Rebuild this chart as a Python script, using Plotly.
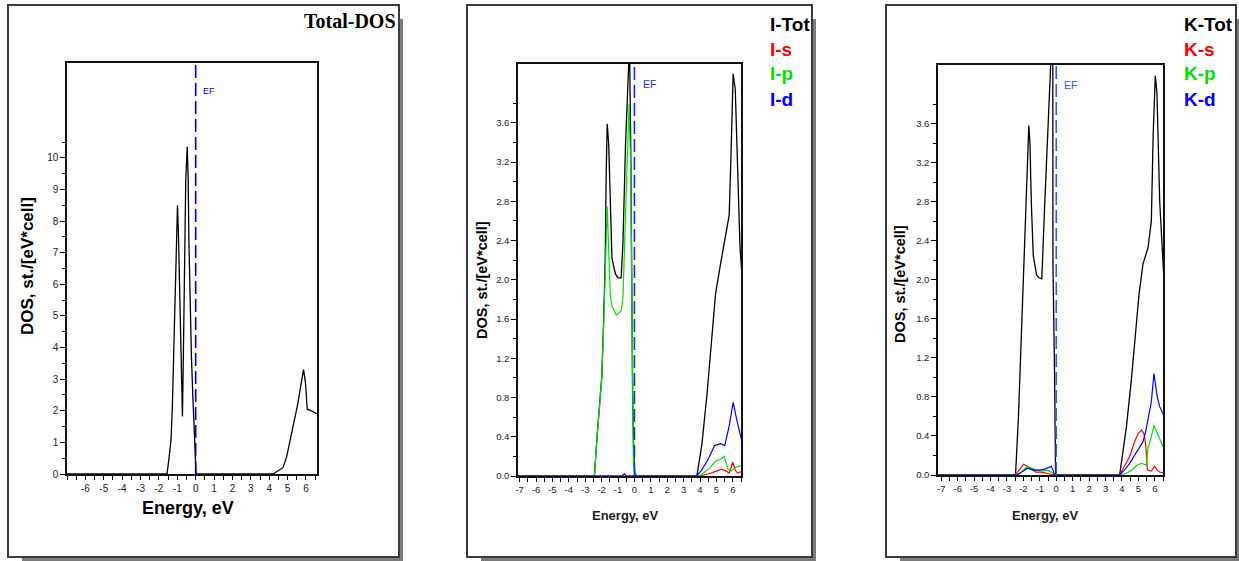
import plotly.graph_objects as go

W, H = 1239, 561

# ---------------- data ----------------
E_FERMI = 0.0

# Total DOS of the cell
tot_e = [-7.0, -1.56, -1.45, -1.34, -1.27, -1.2, -1.12, -1.06, -0.99, -0.94, -0.88,
         -0.83, -0.78, -0.72, -0.68, -0.63, -0.58, -0.54, -0.46, -0.41, -0.37,
         -0.32, -0.23, -0.15, -0.09, -0.03, 0.02, 4.2, 4.45, 4.75, 4.95, 5.15,
         5.35, 5.55, 5.72, 5.87, 5.97, 6.07, 6.3, 6.6]
tot_dos = [0.0, 0.0, 0.5, 1.09, 2.1, 3.93, 5.8, 7.6, 8.5, 7.65, 5.9,
           4.4, 2.7, 1.82, 3.3, 5.0, 7.1, 9.3, 10.35, 9.4, 7.4,
           5.6, 3.7, 2.4, 1.4, 0.43, 0.0, 0.0, 0.08, 0.2, 0.55, 1.1,
           1.65, 2.2, 2.8, 3.3, 2.9, 2.05, 2.0, 1.9]

# Iodine partial DOS
i_tot_e = [-7.1, -2.44, -2.3, -2.13, -1.99, -1.88, -1.78, -1.72, -1.66, -1.57, -1.47,
           -1.37, -1.16, -1.0, -0.81, -0.7, -0.54, -0.4, -0.3, -0.22, -0.17, -0.11,
           -0.05, 0.02, 3.81, 4.12, 4.43, 4.7, 4.95, 5.22, 5.57, 5.78, 5.88, 6.02,
           6.15, 6.29, 6.44, 6.56]
i_tot = [0.0, 0.0, 0.35, 0.73, 1.02, 1.57, 2.22, 3.1, 3.59, 3.39, 2.66,
         2.22, 2.06, 2.02, 2.02, 2.37, 3.39, 3.95, 4.4, 3.3, 2.0, 0.8,
         0.3, 0.0, 0.0, 0.33, 0.84, 1.39, 1.86, 2.13, 2.44, 2.66, 3.21, 4.1,
         3.94, 3.03, 2.33, 2.04]

i_s_e = [-7.1, -0.75, -0.62, -0.5, 3.95, 4.5, 5.0, 5.3, 5.6, 5.78, 5.92, 6.0, 6.15, 6.3, 6.56]
i_s = [0.0, 0.0, 0.02, 0.0, 0.0, 0.02, 0.05, 0.07, 0.05, 0.03, 0.1, 0.14, 0.06, 0.03, 0.05]

i_p_e = [-7.1, -2.44, -2.3, -2.13, -1.99, -1.88, -1.78, -1.72, -1.66, -1.57, -1.47,
         -1.37, -1.1, -0.81, -0.7, -0.54, -0.43, -0.33, -0.23, -0.12, -0.06, 0.08,
         0.2, 3.95, 4.53, 4.95, 5.26, 5.47, 5.71, 5.88, 6.19, 6.56]
i_p = [0.0, 0.0, 0.35, 0.73, 1.0, 1.5, 2.1, 2.5, 2.75, 2.3, 1.85,
       1.73, 1.64, 1.68, 1.82, 2.66, 3.39, 3.79, 3.17, 1.2, 0.11, 0.02,
       0.0, 0.0, 0.07, 0.15, 0.17, 0.2, 0.07, 0.05, 0.09, 0.11]

i_d_e = [-7.1, -0.75, -0.62, -0.5, 3.8, 4.1, 4.53, 4.89, 5.26, 5.51, 5.78, 6.02, 6.23, 6.56]
i_d = [0.0, 0.0, 0.02, 0.0, 0.0, 0.06, 0.18, 0.31, 0.33, 0.31, 0.51, 0.75, 0.58, 0.35]

# Potassium partial DOS
k_tot_e = [-7.2, -2.48, -2.3, -2.15, -2.0, -1.88, -1.75, -1.67, -1.6, -1.52, -1.4,
           -1.2, -1.05, -0.88, -0.72, -0.52, -0.38, -0.3, -0.21, -0.2, -0.1, -0.04,
           3.86, 4.27, 4.57, 4.82, 5.04, 5.28, 5.59, 5.79, 5.9, 6.03, 6.13, 6.3,
           6.45, 6.55]
k_tot = [0.0, 0.0, 0.6, 1.3, 2.2, 2.75, 3.3, 3.58, 3.4, 2.8, 2.25,
         2.05, 2.02, 2.01, 2.7, 3.4, 3.9, 4.35, 4.35, 2.15, 1.0, 0.0,
         0.0, 0.49, 0.97, 1.44, 1.85, 2.16, 2.33, 2.6, 3.48, 4.09, 3.92, 2.8,
         2.33, 2.02]

k_s_e = [-7.2, -2.5, -2.2, -1.99, -1.75, -1.5, -1.25, -0.9, -0.6, -0.35, -0.1,
         3.86, 4.2, 4.47, 4.77, 5.0, 5.2, 5.35, 5.45, 5.55, 5.79, 5.99, 6.15, 6.3, 6.55]
k_s = [0.0, 0.0, 0.06, 0.11, 0.09, 0.06, 0.03, 0.03, 0.02, 0.01, 0.0,
       0.0, 0.1, 0.19, 0.34, 0.43, 0.46, 0.42, 0.3, 0.05, 0.04, 0.09, 0.05, 0.03, 0.02]

k_p_e = [-7.2, -2.45, -2.2, -1.95, -1.73, -1.5, -1.2, -0.9, -0.6, -0.4, -0.2, -0.05,
         3.9, 4.3, 4.6, 4.9, 5.2, 5.48, 5.59, 5.79, 5.95, 6.3, 6.55]
k_p = [0.0, 0.0, 0.02, 0.06, 0.09, 0.07, 0.05, 0.04, 0.05, 0.04, 0.02, 0.0,
       0.0, 0.02, 0.05, 0.1, 0.12, 0.1, 0.28, 0.39, 0.51, 0.36, 0.27]

k_d_e = [-7.2, -2.4, -2.1, -1.75, -1.4, -1.0, -0.7, -0.42, -0.3, -0.2, -0.1,
         3.86, 4.2, 4.47, 4.7, 4.98, 5.28, 5.45, 5.59, 5.79, 5.95, 6.15, 6.3, 6.45, 6.55]
k_d = [0.0, 0.0, 0.03, 0.07, 0.05, 0.05, 0.06, 0.08, 0.09, 0.05, 0.0,
       0.0, 0.06, 0.12, 0.18, 0.25, 0.34, 0.45, 0.58, 0.75, 1.04, 0.8, 0.7, 0.65, 0.61]

x_ticks_1 = [-6, -5, -4, -3, -2, -1, 0, 1, 2, 3, 4, 5, 6]
x_ticks_23 = [-7, -6, -5, -4, -3, -2, -1, 0, 1, 2, 3, 4, 5, 6]
y_ticks_1 = [0, 1, 2, 3, 4, 5, 6, 7, 8, 9, 10]
y_ticks_23 = [0.0, 0.4, 0.8, 1.2, 1.6, 2.0, 2.4, 2.8, 3.2, 3.6]

BLACK, RED, GREEN, BLUE = "#000000", "#ff0000", "#00e000", "#0000ff"


def px_x(p):
    return p / W


def px_y(p):
    return 1 - p / H


fig = go.Figure()


def add_line(x, y, color, axis, width=1.2):
    fig.add_trace(go.Scatter(x=x, y=y, mode="lines", xaxis="x" + axis, yaxis="y" + axis,
                             line=dict(color=color, width=width), showlegend=False,
                             hoverinfo="skip"))


add_line(tot_e, tot_dos, BLACK, "", 1.3)

add_line(i_tot_e, i_tot, BLACK, "2", 1.3)
add_line(i_s_e, i_s, RED, "2")
add_line(i_p_e, i_p, GREEN, "2")
add_line(i_d_e, i_d, BLUE, "2")

add_line(k_tot_e, k_tot, BLACK, "3", 1.3)
add_line(k_s_e, k_s, RED, "3")
add_line(k_p_e, k_p, GREEN, "3")
add_line(k_d_e, k_d, BLUE, "3")

tick_font = dict(family="Arial, Liberation Sans, sans-serif", size=10, color="#222222")


def xaxis(dom, rng, ticks, anchor):
    return dict(domain=[px_x(dom[0]), px_x(dom[1])], range=rng, anchor=anchor,
                tickmode="array", tickvals=ticks, ticktext=[str(t) for t in ticks],
                ticks="outside", ticklen=4, tickwidth=1, tickcolor="#000",
                minor=dict(ticks="outside", dtick=0.5, tick0=0, ticklen=4,
                           tickwidth=1, tickcolor="#000"),
                showline=True, linecolor="#111", linewidth=1.5, mirror=True,
                showgrid=False, zeroline=False, tickfont=tick_font,
                automargin=False, fixedrange=True)


def yaxis(dom, rng, ticks, minor_vals, fmt, anchor):
    return dict(domain=[px_y(dom[1]), px_y(dom[0])], range=rng, anchor=anchor,
                tickmode="array", tickvals=ticks, ticktext=[fmt.format(t) for t in ticks],
                ticks="outside", ticklen=5, tickwidth=1, tickcolor="#000",
                minor=dict(ticks="outside", tickmode="array", tickvals=minor_vals,
                           ticklen=3, tickwidth=1, tickcolor="#000"),
                showline=True, linecolor="#111", linewidth=1.5, mirror=True,
                showgrid=False, zeroline=False, tickfont=tick_font,
                automargin=False, fixedrange=True)


minor_1 = [0.5 + i for i in range(11)]
minor_23 = [0.2 + 0.4 * i for i in range(10)]

fig.update_layout(
    width=W, height=H,
    margin=dict(l=0, r=0, t=0, b=0),
    paper_bgcolor="white", plot_bgcolor="rgba(0,0,0,0)",
    template="none",
    xaxis=xaxis((67, 317), [-7.0, 6.6], x_ticks_1, "y"),
    yaxis=yaxis((63, 474), [0, 13], y_ticks_1, minor_1, "{:d}", "x"),
    xaxis2=xaxis((518, 741), [-7.1, 6.5], x_ticks_23, "y2"),
    yaxis2=yaxis((64, 476), [0, 4.2], y_ticks_23, minor_23, "{:.1f}", "x2"),
    xaxis3=xaxis((938, 1163), [-7.2, 6.5], x_ticks_23, "y3"),
    yaxis3=yaxis((65, 475), [0, 4.2], y_ticks_23, minor_23, "{:.1f}", "x3"),
)
fig.layout.xaxis2.tickfont = dict(tick_font, size=9.5)
fig.layout.yaxis2.tickfont = dict(tick_font, size=9.5)
fig.layout.xaxis3.tickfont = dict(tick_font, size=9.5)
fig.layout.yaxis3.tickfont = dict(tick_font, size=9.5)

# panel frames with drop shadows
shapes = []
for left, top, right, bottom in [(8, 5, 399, 557), (467, 5, 812, 557), (886, 5, 1236, 557)]:
    shapes.append(dict(type="rect", xref="paper", yref="paper", layer="below",
                       x0=px_x(left + 14), x1=px_x(right + 4), y0=px_y(bottom + 4), y1=px_y(top + 14),
                       fillcolor="#7a7a7a", line=dict(width=0)))
    shapes.append(dict(type="rect", xref="paper", yref="paper", layer="below",
                       x0=px_x(left), x1=px_x(right), y0=px_y(bottom), y1=px_y(top),
                       fillcolor="white", line=dict(color="#3a3a3a", width=2)))

# Fermi level markers
for ax, col in [("", "#0000cc"), ("2", "#1030ff"), ("3", "#3355ff")]:
    shapes.append(dict(type="line", xref="x" + ax, yref=("y" + ax) + " domain",
                       x0=E_FERMI, x1=E_FERMI, y0=0, y1=1, layer="above",
                       line=dict(color=col, width=1.6, dash="13px,5px")))
fig.update_layout(shapes=shapes)

ann = []
sans = "Arial, Liberation Sans, sans-serif"


def text(s, x, y, size, color="#000", xanchor="center", angle=0, family=sans, yanchor="middle"):
    ann.append(dict(text=s, x=px_x(x), y=px_y(y), xref="paper", yref="paper",
                    showarrow=False, xanchor=xanchor, yanchor=yanchor, textangle=angle,
                    font=dict(family=family, size=size, color=color)))


# EF labels
for ax, ex, ey, size, col in [("", 0.3, 12.1, 9, "#0000cc"), ("2", 0.38, 4.0, 10.5, "#1030ff"),
                              ("3", 0.38, 4.0, 10.5, "#3355ff")]:
    ann.append(dict(text="EF", x=ex, y=ey, xref="x" + ax, yref="y" + ax, showarrow=False,
                    xanchor="left", yanchor="middle",
                    font=dict(family=sans, size=size, color=col)))

text("<b>Total-DOS</b>", 398, 21, 20, xanchor="right", family="Liberation Serif, Times New Roman, serif")

text("<b>DOS, st./[eV*cell]</b>", 27, 266, 17, angle=-90)
text("<b>Energy, eV</b>", 188, 508, 18)

text("<b>DOS, st./[eV*cell]</b>", 482, 280, 14.5, angle=-90)
text("<b>Energy, eV</b>", 625, 515, 13, color="#222")
text("<b>DOS, st./[eV*cell]</b>", 900, 284, 14.5, angle=-90)
text("<b>Energy, eV</b>", 1045, 515, 13, color="#222")

for labels, x0 in [(["I-Tot", "I-s", "I-p", "I-d"], 768), (["K-Tot", "K-s", "K-p", "K-d"], 1182)]:
    for lab, yy, col in zip(labels, [25, 50, 74, 99], [BLACK, RED, GREEN, BLUE]):
        text("<b>" + lab + "</b>", x0, yy, 19, color=col, xanchor="left")

fig.update_layout(annotations=ann)

fig.write_html("out.html")
